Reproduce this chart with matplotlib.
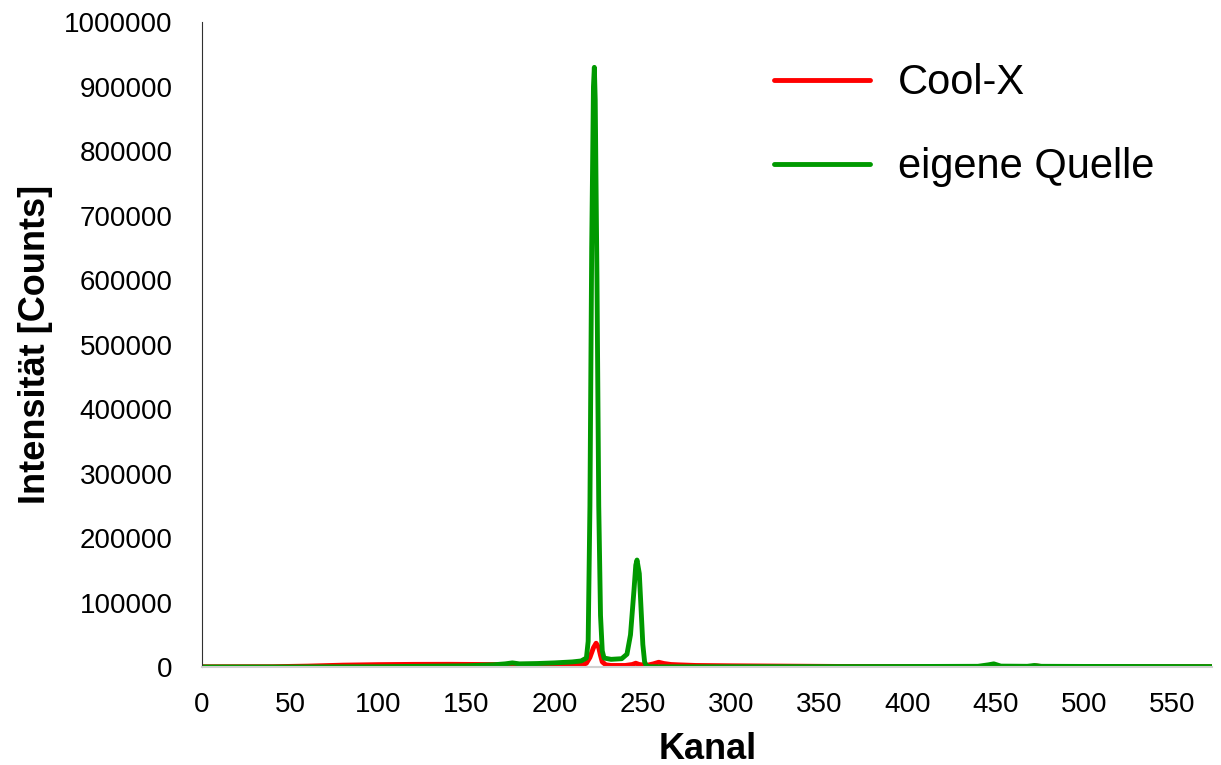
import matplotlib.pyplot as plt

plt.rcParams['font.family'] = ['Liberation Sans', 'DejaVu Sans']

# Kanal / Intensität
kanal_cool = [0, 40, 60, 80, 100, 120, 140, 160, 180, 200, 210, 216, 218, 220, 222, 223.5, 225, 226, 227, 229,
              232, 240, 244, 246, 248, 252, 256, 259, 262, 266, 270, 280, 300, 330, 360, 400, 445, 448, 452,
              470, 473, 476, 500, 540, 573]
counts_cool = [500, 600, 1500, 3000, 3800, 4200, 4300, 4000, 3800, 3500, 3500, 3800, 6000, 15000, 30000, 37000,
               30000, 18000, 8000, 3500, 2500, 2500, 4000, 6000, 4000, 2500, 5000, 7500, 5500, 4000, 3500, 2500,
               2000, 1500, 1000, 800, 1000, 2500, 1000, 800, 1800, 800, 700, 600, 600]

kanal_eigen = [0, 50, 100, 150, 165, 172, 176, 180, 190, 200, 210, 215, 218, 219, 220, 221, 222, 222.5, 223, 224,
               225, 226, 227, 228, 232, 238, 241, 243, 245, 246, 246.7, 248, 249, 250, 251, 252, 254, 260, 300,
               350, 400, 440, 446, 449, 453, 468, 472, 476, 500, 540, 573]
counts_eigen = [200, 200, 500, 2000, 3500, 5000, 6500, 5000, 5500, 6500, 8000, 9500, 14000, 40000, 250000,
                650000, 900000, 930000, 880000, 600000, 250000, 80000, 25000, 14000, 12000, 13000, 20000, 50000,
                120000, 158000, 166000, 145000, 90000, 35000, 8000, 2000, 500, 400, 500, 700, 900, 1200, 3500, 5000,
                1500, 1200, 2500, 1200, 1000, 900, 800]

y_ticks = [0, 100000, 200000, 300000, 400000, 500000, 600000, 700000, 800000, 900000, 1000000]
x_ticks = [0, 50, 100, 150, 200, 250, 300, 350, 400, 450, 500, 550]

fig = plt.figure(figsize=(12.21, 7.65), dpi=100)
ax = fig.add_axes([0.1654, 0.128, 0.8276, 0.843])

ax.plot(kanal_cool, counts_cool, color='#ff0000', lw=3.5, label='Cool-X', solid_capstyle='round')
ax.plot(kanal_eigen, counts_eigen, color='#009900', lw=3.5, label='eigene Quelle', solid_capstyle='round')

ax.set_xlim(0, 573)
ax.set_ylim(0, 1000000)
ax.set_xticks(x_ticks)
ax.set_yticks(y_ticks)
ax.set_xticklabels([str(t) for t in x_ticks])
ax.set_yticklabels([str(t) for t in y_ticks])
ax.tick_params(length=0, labelsize=20)
ax.tick_params(axis='y', pad=21)
ax.tick_params(axis='x', pad=18)

ax.spines['right'].set_visible(False)
ax.spines['top'].set_visible(False)
ax.spines['left'].set_color('#303030')
ax.spines['bottom'].set_color('#d0d0d0')
ax.spines['bottom'].set_linewidth(1.5)

ax.set_xlabel('Kanal', fontsize=26, fontweight='bold', labelpad=10)
ax.set_ylabel('Intensität [Counts]', fontsize=26, fontweight='bold', labelpad=8)

ax.legend(loc='upper left', bbox_to_anchor=(0.55, 0.962), borderaxespad=0, frameon=False, fontsize=30,
          handlelength=2.3, handletextpad=0.67, labelspacing=1.05)

fig.savefig('out.png', dpi=100)
